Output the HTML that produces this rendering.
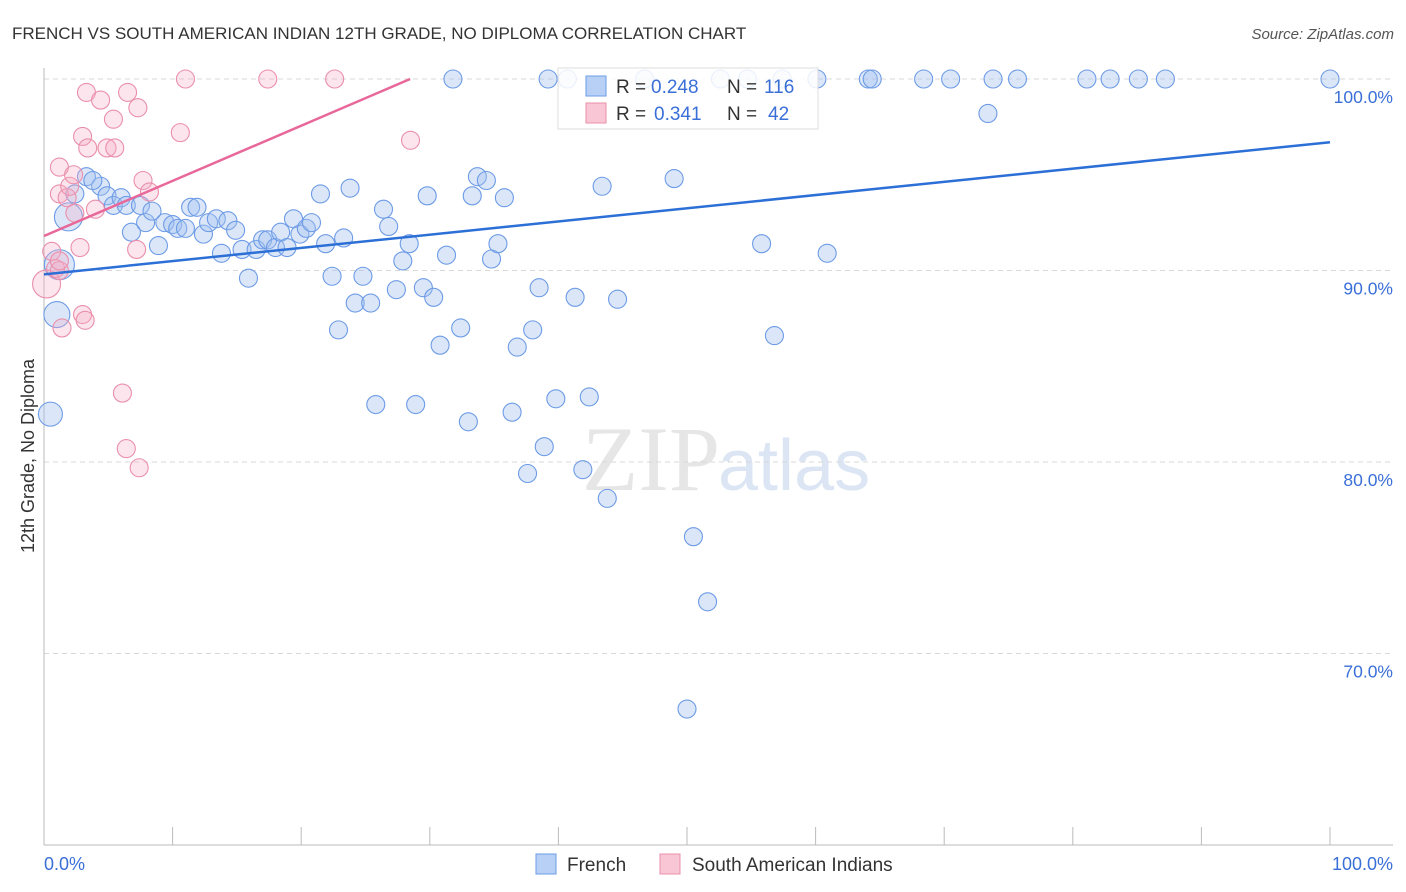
<!DOCTYPE html>
<html><head><meta charset="utf-8"><style>
body{margin:0;background:#fff;font-family:"Liberation Sans",sans-serif}
svg{display:block}
</style></head><body>
<svg width="1406" height="892" xmlns="http://www.w3.org/2000/svg">
<text x="12" y="39" font-size="17" fill="#333">FRENCH VS SOUTH AMERICAN INDIAN 12TH GRADE, NO DIPLOMA CORRELATION CHART</text>
<text x="1394" y="39" font-size="15" fill="#555" text-anchor="end" font-style="italic">Source: ZipAtlas.com</text>
<text x="720" y="490" font-size="92" fill="#e6e6e6" text-anchor="end" font-family="Liberation Serif,serif">ZIP</text>
<text x="718" y="490" font-size="72" fill="#dbe5f4">atlas</text>
<g id="grid"></g>
<g id="axes"></g>
<g id="pts"></g>
<g id="lines"></g>
<text transform="translate(34,456) rotate(-90)" font-size="18" fill="#333" text-anchor="middle">12th Grade, No Diploma</text>
<text x="44" y="870" font-size="18" fill="#3a6fd8">0.0%</text>
<text x="1393" y="870" font-size="18" fill="#3a6fd8" text-anchor="end">100.0%</text>
<g>
<rect x="558" y="68" width="260" height="61" fill="rgba(255,255,255,0.85)" stroke="#ddd"/>
<rect x="586" y="76" width="20" height="20" fill="#b8d0f5" stroke="#6d9be6"/>
<rect x="586" y="103" width="20" height="20" fill="#f8c6d4" stroke="#ea8fab"/>
<text x="616" y="93" font-size="19" fill="#333">R = </text><text x="651" y="93" font-size="19" fill="#3a6fd8">0.248</text>
<text x="727" y="93" font-size="19" fill="#333">N = </text><text x="764" y="93" font-size="19" fill="#3a6fd8">116</text>
<text x="616" y="120" font-size="19" fill="#333">R = </text><text x="654" y="120" font-size="19" fill="#3a6fd8">0.341</text>
<text x="727" y="120" font-size="19" fill="#333">N = </text><text x="768" y="120" font-size="19" fill="#3a6fd8">42</text>
</g>
<g><rect x="536" y="854" width="20" height="20" fill="#b8d0f5" stroke="#6d9be6"/><text x="567" y="871" font-size="19" fill="#333">French</text></g>
<g><rect x="660" y="854" width="20" height="20" fill="#f8c6d4" stroke="#ea8fab"/><text x="692" y="871" font-size="19" fill="#333">South American Indians</text></g>
</svg>
<script>
const yTicks=[100,90,80,70];
const yTickLabels=["100.0%","90.0%","80.0%","70.0%"];
const xTicks=[0,10,20,30,40,50,60,70,80,90,100];
const frenchX=[0.5,1.0,1.2,1.9,2.4,3.3,4.4,3.8,4.9,5.4,6.0,6.4,6.8,7.5,7.9,8.4,8.9,9.4,10.0,10.4,11.0,11.4,11.9,12.4,12.8,13.4,13.8,14.3,14.9,15.4,15.9,16.5,17.0,17.4,18.0,18.4,18.9,19.4,19.9,20.4,20.8,21.5,21.9,22.4,22.9,23.3,23.8,24.2,24.8,25.4,25.8,26.4,26.8,27.4,27.9,28.4,28.9,29.5,29.8,30.3,30.8,31.3,31.8,32.4,33.0,33.3,33.7,34.4,34.8,35.3,35.8,36.4,36.8,37.6,38.0,38.5,38.9,39.2,39.8,40.7,41.3,41.9,42.4,43.4,43.8,44.6,46.7,49.0,50.0,50.5,51.6,52.6,54.7,55.8,56.8,57.4,60.1,60.9,64.1,64.4,68.4,70.5,73.4,73.8,75.7,81.1,82.9,85.1,87.2,100];
const frenchY=[82.5,87.7,90.3,92.8,94.0,94.9,94.4,94.7,93.9,93.4,93.8,93.4,92.0,93.4,92.5,93.1,91.3,92.5,92.4,92.2,92.2,93.3,93.3,91.9,92.5,92.7,90.9,92.6,92.1,91.1,89.6,91.1,91.6,91.6,91.2,92.0,91.2,92.7,91.9,92.2,92.5,94.0,91.4,89.7,86.9,91.7,94.3,88.3,89.7,88.3,83.0,93.2,92.3,89.0,90.5,91.4,83.0,89.1,93.9,88.6,86.1,90.8,100,87.0,82.1,93.9,94.9,94.7,90.6,91.4,93.8,82.6,86.0,79.4,86.9,89.1,80.8,100,83.3,100,88.6,79.6,83.4,94.4,78.1,88.5,100,94.8,67.1,76.1,72.7,100,100,91.4,86.6,100,100,90.9,100,100,100,100,98.2,100,100,100,100,100,100,100];
const frenchSize=[12,13,15,14];
const sainX=[0.2,0.6,0.9,1.2,1.4,1.2,1.2,1.8,2.0,2.3,2.4,2.8,3.0,3.3,3.4,4.0,4.4,4.9,5.4,5.5,6.1,6.5,7.3,6.4,7.2,7.4,7.7,8.2,10.6,11.0,17.4,22.6,28.5,3.0,3.2,1.2];
const sainY=[89.3,91.0,90.1,90.0,87.0,94.0,95.4,93.8,94.4,95.0,93.0,91.2,97.0,99.3,96.4,93.2,98.9,96.4,97.9,96.4,83.6,99.3,98.5,80.7,91.1,79.7,94.7,94.1,97.2,100,100,100,96.8,87.7,87.4,90.5];
const blueLine=[89.8,96.7];
const pinkLine=[91.8,0.288];
const NS="http://www.w3.org/2000/svg";
const X=v=>44+v*12.86, Y=v=>79+(100-v)*19.15;
function mk(t,a,p){const e=document.createElementNS(NS,t);for(const k in a)e.setAttribute(k,a[k]);p.appendChild(e);return e;}
const grid=document.getElementById('grid'),axes=document.getElementById('axes'),pts=document.getElementById('pts'),lines=document.getElementById('lines');
yTicks.forEach((t,i)=>{
 const l=mk('line',{x1:44,x2:1393,y1:Y(t),y2:Y(t),stroke:'#d8d8d8','stroke-dasharray':'5,4'},grid);
 
 
 const tx=mk('text',{x:1393,y:Y(t)+24,'font-size':17.5,fill:'#3a6fd8','text-anchor':'end'},grid);
 tx.textContent=yTickLabels[i];
 
 
});
const ax=mk('line',{x1:44,x2:44,y1:68,y2:845,stroke:'#bbb'},axes);


const bx=mk('line',{x1:44,x2:1393,y1:845,y2:845,stroke:'#bbb'},axes);


xTicks.forEach(t=>{const l=mk('line',{x1:X(t),x2:X(t),y1:827,y2:845,stroke:'#bbb'},axes);
 
 });
frenchX.forEach((x,i)=>{const c=mk('circle',{cx:X(x),cy:Y(frenchY[i]),r:frenchSize[i]||9,fill:'rgba(160,192,240,0.38)',stroke:'#6d9be6','stroke-width':1.1},pts);
 
 });
sainX.forEach((x,i)=>{const c=mk('circle',{cx:X(x),cy:Y(sainY[i]),r:i==0?14:9,fill:'rgba(245,175,198,0.32)',stroke:'#ea8fab','stroke-width':1.1},pts);
 
 });
const bl=mk('line',{x1:X(0),y1:Y(blueLine[0]),x2:X(100),y2:Y(blueLine[1]),stroke:'#2c6fd6','stroke-width':2.5},lines);


const xe=(100-pinkLine[0])/pinkLine[1];
const pl=mk('line',{x1:X(0),y1:Y(pinkLine[0]),x2:X(xe),y2:Y(100),stroke:'#e8689a','stroke-width':2.5},lines);


</script>
</body></html>
